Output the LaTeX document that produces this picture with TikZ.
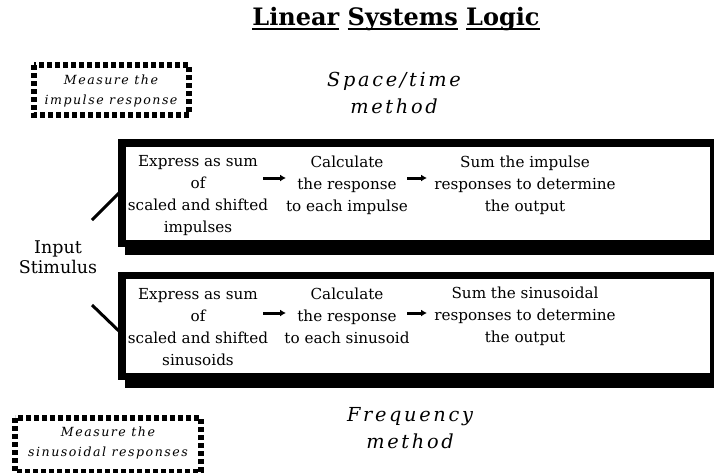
\documentclass[tikz,border=0pt]{standalone}
\usepackage{fontspec}
\usetikzlibrary{arrows.meta}
\setmainfont{DejaVu Serif}
\newcommand\myul[1]{\setbox0\hbox{#1}\rlap{\rule[-5pt]{\wd0}{2pt}}\box0\relax}
\begin{document}
\begin{tikzpicture}[x=1pt,y=-1pt,
  body/.style={align=center,font=\fontsize{15.2}{22}\selectfont,inner sep=0pt},
  meth/.style={align=center,font=\fontsize{19.3}{27}\selectfont\itshape\addfontfeatures{LetterSpace=14},inner sep=0pt},
  small/.style={align=center,font=\fontsize{12.6}{19.5}\selectfont\itshape\addfontfeatures{LetterSpace=12},inner sep=0pt},
  dotbox/.style={draw,line width=5.5pt,dash pattern=on 5pt off 3pt},
  flow/.style={-{Latex[length=6pt,width=7pt]},line width=3pt},
  stim/.style={line width=3pt}]
\useasboundingbox (0,0) rectangle (714,472);
% title
\node[font=\fontsize{24}{28}\selectfont\bfseries,inner sep=0pt] (title) at (396,19) {\myul{Linear} \myul{Systems} \myul{Logic}};
% dotted boxes
\draw[dotbox] (34,65) rectangle (189,115);
\node[small] (m1) at (111,91) {Measure the\\impulse response};
\draw[dotbox] (15,418) rectangle (201,472);
\node[small] (m2) at (108,443) {Measure the\\sinusoidal responses};
% method labels
\node[meth] (space) at (394,93) {Space/time\\method};
\node[meth] (freq) at (410,428) {Frequency\\method};
% box 1
\fill (118,139) rectangle (714,247);
\fill (125,240) rectangle (714,255);
\node[fill=white,inner sep=0pt,minimum width=584pt,minimum height=93pt,anchor=north west] (box1) at (126,147) {};
\node[body] (a1) at (198,196) {Express as sum\\of\\scaled and shifted\\impulses};
\node[body] (b1) at (347,185) {Calculate\\the response\\to each impulse};
\node[body] (c1) at (525,185) {Sum the impulse\\responses to determine\\the output};
\draw[flow] (263,178) -- (286,178);
\draw[flow] (407,178) -- (427,178);
% box 2
\fill (118,272) rectangle (714,380);
\fill (125,373) rectangle (714,388);
\node[fill=white,inner sep=0pt,minimum width=584pt,minimum height=94pt,anchor=north west] (box2) at (126,279) {};
\node[body] (a2) at (198,327) {Express as sum\\of\\scaled and shifted\\sinusoids};
\node[body] (b2) at (347,316) {Calculate\\the response\\to each sinusoid};
\node[body] (c2) at (525,316) {Sum the sinusoidal\\responses to determine\\the output};
\draw[flow] (263,313) -- (286,313);
\draw[flow] (407,313) -- (427,313);
% input stimulus
\node[body,font=\fontsize{17.5}{20}\selectfont] (in) at (58,257) {Input\\Stimulus};
\coordinate (s1) at (92,220);
\coordinate (e1) at (121,191);
\coordinate (s2) at (92,305);
\coordinate (e2) at (121,333);
\draw[stim] (s1) -- (e1);
\draw[stim] (s2) -- (e2);
\end{tikzpicture}
\end{document}
